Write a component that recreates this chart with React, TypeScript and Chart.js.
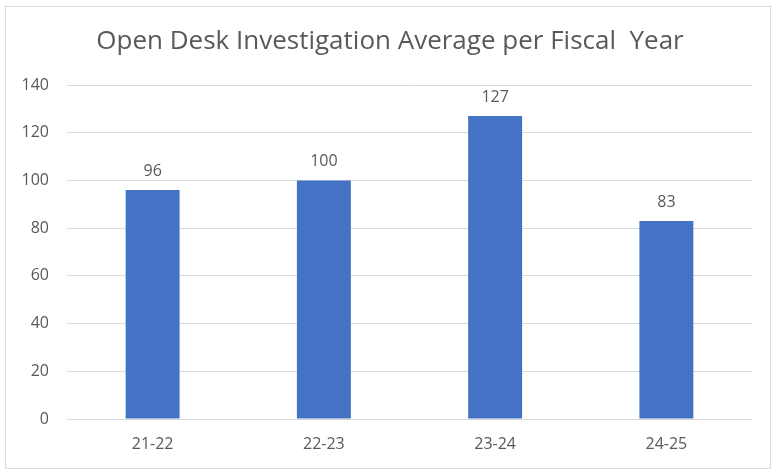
import React, { useEffect, useRef } from "react";
import { Chart, registerables } from "chart.js";

Chart.register(...registerables);

const categories = ["21-22", "22-23", "23-24", "24-25"];
const values = [96, 100, 127, 83];
const titleText = "Open Desk Investigation Average per Fiscal  Year";
const yMin = 0;
const yMax = 140;
const yStep = 20;

const FONT = "'Open Sans', 'Noto Sans', sans-serif";
const TEXT = "#595959";

export default function App() {
  const ref = useRef<HTMLCanvasElement | null>(null);

  useEffect(() => {
    if (!ref.current) return;
    const labelPlugin = {
      id: "labels",
      afterDatasetsDraw(chart: any) {
        const ctx = chart.ctx;
        ctx.save();
        ctx.font = `16px ${FONT}`;
        ctx.fillStyle = TEXT;
        ctx.textAlign = "center";
        ctx.textBaseline = "bottom";
        const meta = chart.getDatasetMeta(0);
        meta.data.forEach((bar: any, i: number) => {
          ctx.fillText(String(values[i]), bar.x, bar.y - 11);
        });
        ctx.font = `26px ${FONT}`;
        ctx.textBaseline = "middle";
        ctx.fillText(titleText, 390, 42);
        ctx.restore();
      },
    };
    const chart = new Chart(ref.current, {
      type: "bar",
      data: {
        labels: categories,
        datasets: [
          {
            data: values,
            backgroundColor: "#4472C4",
            categoryPercentage: 1,
            barPercentage: 0.315,
          },
        ],
      },
      options: {
        animation: false,
        responsive: false,
        maintainAspectRatio: false,
        layout: { padding: { top: 85, right: 23, left: 0, bottom: 0 } },
        plugins: {
          legend: { display: false },
          title: { display: false },
          tooltip: { enabled: false },
        },
        scales: {
          x: {
            grid: { display: false, drawTicks: false },
            border: { display: false },
            ticks: { color: TEXT, font: { family: FONT, size: 16 }, padding: 16 },
            afterFit: (s: any) => {
              s.height = 51;
            },
          },
          y: {
            min: yMin,
            max: yMax,
            ticks: { stepSize: yStep, color: TEXT, font: { family: FONT, size: 16 }, padding: 18 },
            grid: { color: "#d9d9d9", lineWidth: 1, drawTicks: false },
            border: { display: false },
            afterFit: (s: any) => {
              s.width = 67;
            },
          },
        },
      },
      plugins: [labelPlugin],
    });
    return () => chart.destroy();
  }, []);

  return (
    <div style={{ position: "absolute", left: 0, top: 0, width: 775, height: 470, background: "#fff" }}>
      <div
        style={{
          position: "absolute",
          left: 5,
          top: 6,
          width: 764,
          height: 461,
          border: "1px solid #d9d9d9",
        }}
      />
      <canvas ref={ref} width={775} height={470} style={{ position: "absolute", left: 0, top: 0 }} />
    </div>
  );
}
